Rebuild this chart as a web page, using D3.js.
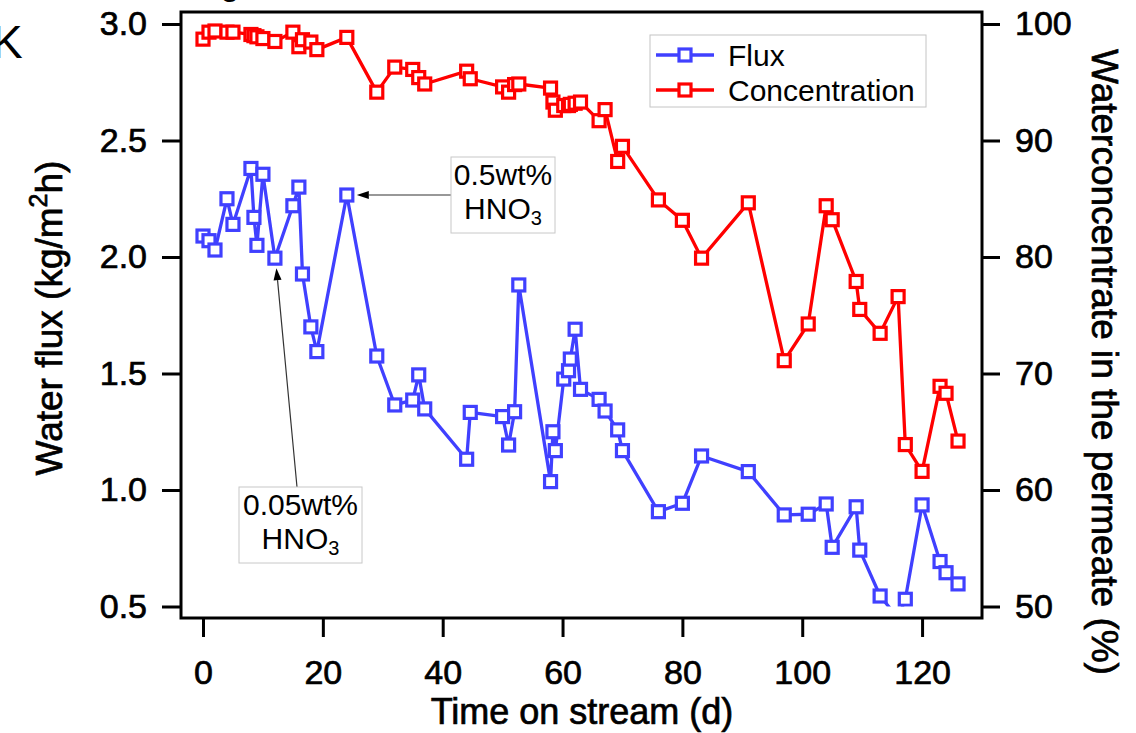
<!DOCTYPE html>
<html>
<head>
<meta charset="utf-8">
<script src="https://cdn.jsdelivr.net/npm/d3@7"></script>
<style>
  html, body { margin: 0; padding: 0; background: #ffffff; }
  svg { display: block; font-family: "Liberation Sans", Arial, sans-serif; }
  .heavy { stroke: #000; stroke-width: 0.7px; }
</style>
</head>
<body>
<svg id="chart" width="1136" height="733"></svg>
<script>
// Time on stream (days) for each sample
const days = [0, 1, 2, 4, 5, 8, 8.5, 9, 10, 12, 15, 16, 16.6, 18, 19, 24, 29, 32, 35, 36, 37,
  44, 44.6, 50, 51, 52, 52.7, 58, 58.4, 58.8, 60.2, 61, 61.3, 62.1, 63, 66.1, 67.1, 69.2, 70,
  76, 80, 83.2, 91, 97, 101, 104, 105, 109, 109.6, 113, 116, 117.2, 120, 123, 124, 126];

// Water flux, kg/(m2 h)
const flux = [2.09, 2.07, 2.03, 2.25, 2.14, 2.38, 2.17, 2.05, 2.355, 1.995, 2.22, 2.30, 1.927, 1.70, 1.594, 2.266, 1.575, 1.365, 1.386, 1.494, 1.348,
  1.132, 1.333, 1.315, 1.193, 1.336, 1.88, 1.036, 1.25, 1.169, 1.476, 1.512, 1.562, 1.69, 1.432, 1.389, 1.339, 1.258, 1.169,
  0.907, 0.943, 1.146, 1.079, 0.893, 0.896, 0.94, 0.754, 0.928, 0.742, 0.545, 0.45, 0.531, 0.936, 0.693, 0.645, 0.597];

// Water concentration in the permeate, %
const conc = [98.7, 99.3, 99.4, 99.3, 99.3, 99.1, 99.0, 98.9, 98.75, 98.5, 99.3, 98.05, 98.65, 98.45, 97.8, 98.85, 94.15, 96.3, 96.1, 95.4, 94.85,
  95.95, 95.3, 94.6, 94.15, 94.8, 94.85, 94.5, 93.3, 92.6, 93.0, 93.0, 93.1, 93.2, 93.3, 91.7, 92.65, 88.2, 89.5,
  84.9, 83.15, 79.9, 84.65, 71.1, 74.25, 84.4, 83.2, 77.9, 75.5, 73.45, 76.6, 63.9, 61.6, 68.9, 68.3, 64.2];

const xTicks = [0, 20, 40, 60, 80, 100, 120];
const fluxTicks = [0.5, 1.0, 1.5, 2.0, 2.5, 3.0];
const concTicks = [50, 60, 70, 80, 90, 100];
const seriesNames = ["Flux", "Concentration"];
const seriesColors = ["#4040ff", "#ff0000"];

const svg = d3.select("#chart");

// plot frame and data area
const frame = { left: 181, top: 12, right: 982, bottom: 618 };

const x = d3.scaleLinear().domain([0, 130]).range([203, 982]);
const yFlux = d3.scaleLinear().domain([0.5, 3.0]).range([606.5, 24]);
const yConc = d3.scaleLinear().domain([50, 100]).range([606.5, 24]);

svg.append("defs").append("clipPath").attr("id", "plotClip")
  .append("rect")
  .attr("x", frame.left).attr("y", frame.top)
  .attr("width", frame.right - frame.left)
  .attr("height", yFlux(0.5) - frame.top);

// axes
const tickFont = "34px";
const leftAxis = svg.append("g")
  .attr("transform", `translate(${frame.left},0)`)
  .call(d3.axisLeft(yFlux).tickValues(fluxTicks).tickFormat(d3.format(".1f"))
    .tickSize(19).tickSizeOuter(0).tickPadding(15));
const rightAxis = svg.append("g")
  .attr("transform", `translate(${frame.right},0)`)
  .call(d3.axisRight(yConc).tickValues(concTicks).tickFormat(d3.format("d"))
    .tickSize(18).tickSizeOuter(0).tickPadding(15));
const bottomAxis = svg.append("g")
  .attr("transform", `translate(0,${frame.bottom})`)
  .call(d3.axisBottom(x).tickValues(xTicks).tickFormat(d3.format("d"))
    .tickSize(19).tickSizeOuter(0));

[leftAxis, rightAxis, bottomAxis].forEach(g => {
  g.select(".domain").remove();
  g.selectAll(".tick line").attr("stroke", "#000").attr("stroke-width", 3);
  g.selectAll(".tick text").attr("fill", "#000").attr("class", "heavy")
    .style("font-size", tickFont)
    .style("font-family", "'Liberation Sans', Arial, sans-serif");
});
bottomAxis.selectAll(".tick text").attr("y", 66).attr("dy", 0);

svg.append("rect")
  .attr("x", frame.left).attr("y", frame.top)
  .attr("width", frame.right - frame.left).attr("height", frame.bottom - frame.top)
  .attr("fill", "none").attr("stroke", "#000").attr("stroke-width", 3);

// axis titles
svg.append("text")
  .attr("class", "heavy")
  .attr("transform", "translate(62,318) rotate(-90)")
  .attr("text-anchor", "middle")
  .style("font-size", "37px")
  .call(t => {
    t.append("tspan").text("Water flux (kg/m");
    t.append("tspan").attr("dy", "-0.6em").style("font-size", "25px").text("2");
    t.append("tspan").attr("dy", "0.4em").text("h)");
  });

svg.append("text")
  .attr("class", "heavy")
  .attr("transform", "translate(1092,362) rotate(90)")
  .attr("text-anchor", "middle")
  .style("font-size", "37px")
  .text("Waterconcentrate in the permeate (%)");

svg.append("text")
  .attr("class", "heavy")
  .attr("x", 582).attr("y", 724)
  .attr("text-anchor", "middle")
  .style("font-size", "36px")
  .text("Time on stream (d)");

// panel letter and clipped caption fragment along the top edge
svg.append("text").attr("x", -8).attr("y", 58).style("font-size", "46px").text("K");
svg.append("text").attr("x", 220).attr("y", -6).style("font-size", "36px").text("g");

// data traces
const plot = svg.append("g").attr("clip-path", "url(#plotClip)");
const seriesY = [flux.map(v => yFlux(v)), conc.map(v => yConc(v))];
const marker = 12;
const markStroke = 3.2;

seriesY.forEach((ys, i) => {
  const pts = days.map((d, k) => [x(d), ys[k]]);
  plot.append("path")
    .attr("d", d3.line()(pts))
    .attr("fill", "none")
    .attr("stroke", seriesColors[i])
    .attr("stroke-width", 3.3)
    .attr("stroke-linejoin", "round");
  plot.selectAll(null).data(pts).enter().append("rect")
    .attr("x", p => p[0] - marker / 2).attr("y", p => p[1] - marker / 2)
    .attr("width", marker).attr("height", marker)
    .attr("fill", "#fff")
    .attr("stroke", seriesColors[i]).attr("stroke-width", markStroke);
});

// legend
const legend = svg.append("g");
legend.append("rect")
  .attr("x", 650).attr("y", 35).attr("width", 276).attr("height", 72)
  .attr("fill", "#fff").attr("stroke", "#c4c4c4").attr("stroke-width", 1);
seriesNames.forEach((name, i) => {
  const ly = 55 + i * 35;
  legend.append("line")
    .attr("x1", 656).attr("x2", 714).attr("y1", ly).attr("y2", ly)
    .attr("stroke", seriesColors[i]).attr("stroke-width", 3.3);
  legend.append("rect")
    .attr("x", 685 - marker / 2).attr("y", ly - marker / 2)
    .attr("width", marker).attr("height", marker)
    .attr("fill", "#fff").attr("stroke", seriesColors[i]).attr("stroke-width", markStroke);
  legend.append("text")
    .attr("x", 728).attr("y", ly).attr("dy", "0.36em")
    .style("font-size", "30px").text(name);
});

// annotations: callout boxes with arrows pointing to flux samples
function arrow(x1, y1, x2, y2) {
  const ang = Math.atan2(y2 - y1, x2 - x1);
  const len = 12, half = 4;
  const bx = x2 - len * Math.cos(ang), by = y2 - len * Math.sin(ang);
  svg.append("line")
    .attr("x1", x1).attr("y1", y1).attr("x2", bx).attr("y2", by)
    .attr("stroke", "#333").attr("stroke-width", 1.2);
  svg.append("path")
    .attr("d", `M${x2},${y2} L${bx + half * Math.sin(ang)},${by - half * Math.cos(ang)} L${bx - half * Math.sin(ang)},${by + half * Math.cos(ang)} Z`)
    .attr("fill", "#000");
}

function callout(bx, by, bw, bh, line1) {
  svg.append("rect")
    .attr("x", bx).attr("y", by).attr("width", bw).attr("height", bh)
    .attr("fill", "#fff").attr("stroke", "#c8c8c8").attr("stroke-width", 1);
  const cx = bx + bw / 2;
  svg.append("text").attr("x", cx).attr("y", by + 28)
    .attr("text-anchor", "middle").style("font-size", "30px").text(line1);
  svg.append("text").attr("x", cx).attr("y", by + 62)
    .attr("text-anchor", "middle").style("font-size", "30px")
    .call(t => {
      t.append("tspan").text("HNO");
      t.append("tspan").attr("dy", "0.3em").style("font-size", "20px").text("3");
    });
}

const iHigh = days.indexOf(24), iLow = days.indexOf(12);
arrow(451, yFlux(flux[iHigh]), x(days[iHigh]) + 10, yFlux(flux[iHigh]));
callout(451, 157, 104, 76, "0.5wt%");
arrow(297, 487, x(days[iLow]) + 1.5, yFlux(flux[iLow]) + 10);
callout(239, 487, 123, 76, "0.05wt%");
</script>
</body>
</html>
